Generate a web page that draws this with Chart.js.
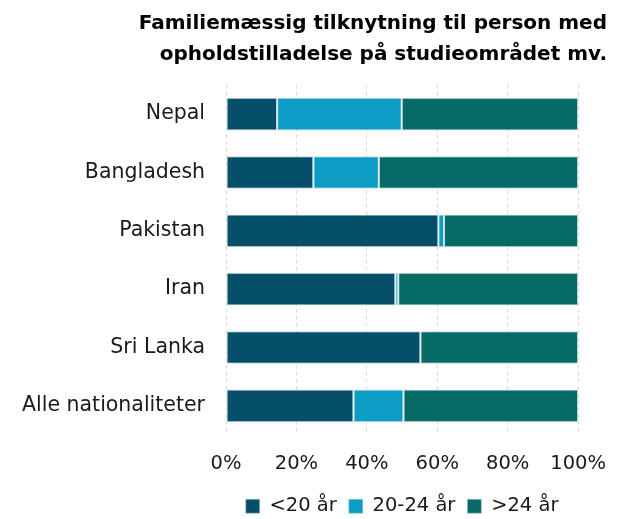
<!DOCTYPE html>
<html>
<head>
<meta charset="utf-8">
<script src="https://cdn.jsdelivr.net/npm/chart.js@4"></script>
<style>
    html, body { margin: 0; padding: 0; background: #fff; }
    #canvas { display: block; }
</style>
</head>
<body>
<canvas id="canvas" width="621" height="519"></canvas>
<script>
const categories = ['Nepal', 'Bangladesh', 'Pakistan', 'Iran', 'Sri Lanka', 'Alle nationaliteter'];
const under20 = [14.5, 24.8, 60.3, 48.1, 55.2, 36.2];
const from20to24 = [35.4, 18.6, 1.6, 0.8, 0, 14.2];
const over24 = [50.1, 56.6, 38.1, 51.1, 44.8, 49.6];
const seriesLabels = ['<20 år', '20-24 år', '>24 år'];
const titleLines = ['Familiemæssig tilknytning til person med', 'opholdstilladelse på studieområdet mv.'];

Chart.defaults.font.family = '"DejaVu Sans", sans-serif';
Chart.defaults.color = '#1a1a1a';

function makeDataset(label, data, color) {
    return {
        label: label,
        data: data,
        backgroundColor: color,
        borderColor: 'rgba(170, 200, 210, 0.6)',
        borderWidth: 1,
        borderSkipped: false,
        barPercentage: 0.56,
        categoryPercentage: 1
    };
}

const config = {
    type: 'bar',
    data: {
        labels: categories,
        datasets: [
            makeDataset(seriesLabels[0], under20, '#064f6a'),
            makeDataset(seriesLabels[1], from20to24, '#0c9dc5'),
            makeDataset(seriesLabels[2], over24, '#066b67')
        ]
    },
    options: {
        responsive: false,
        animation: false,
        indexAxis: 'y',
        layout: {
            padding: { left: 9, right: 14, top: 4, bottom: -7 }
        },
        scales: {
            x: {
                stacked: true,
                min: 0,
                max: 100,
                ticks: {
                    stepSize: 20,
                    padding: 4,
                    font: { size: 19.5, lineHeight: 2.6 },
                    callback: value => value + '%'
                },
                grid: {
                    color: '#dcdcdc',
                    drawTicks: false
                },
                border: { display: false, dash: [4, 3] },
                // fixed axis height and a bit more room right of the 100% tick
                afterFit: scale => {
                    scale.height = 49.5;
                    scale.paddingRight += 11;
                }
            },
            y: {
                stacked: true,
                ticks: {
                    padding: 13,
                    font: { size: 20.5 }
                },
                grid: { display: false },
                border: { display: false }
            }
        },
        plugins: {
            title: {
                display: true,
                text: titleLines,
                align: 'end',
                color: '#000',
                font: { size: 20, weight: 'bold', lineHeight: 1.55 },
                padding: { top: 4, bottom: 15 }
            },
            legend: {
                position: 'bottom',
                fullSize: false,
                labels: {
                    boxWidth: 14,
                    boxHeight: 14,
                    padding: 12,
                    font: { size: 19.5 }
                }
            },
            tooltip: { enabled: false }
        }
    }
};

new Chart(document.getElementById('canvas'), config);
</script>
</body>
</html>
